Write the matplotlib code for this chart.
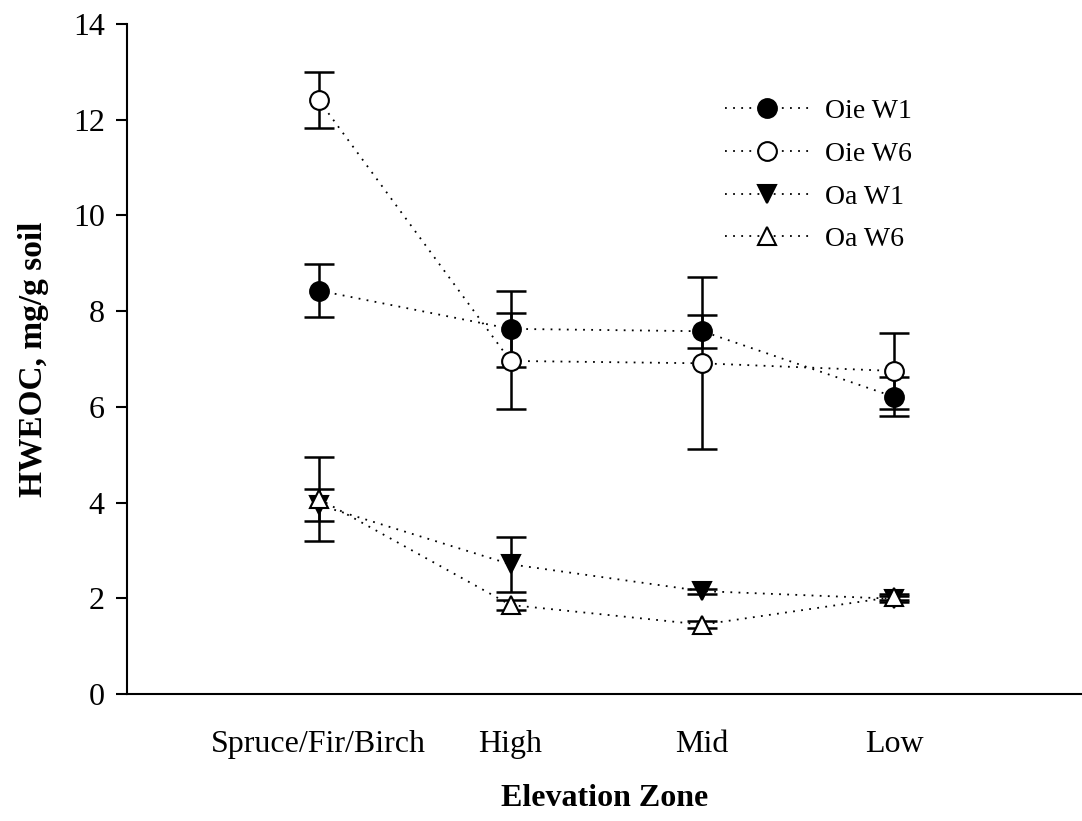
import matplotlib
matplotlib.use("Agg")
import matplotlib.pyplot as plt
import numpy as np

categories = ["Spruce/Fir/Birch", "High", "Mid", "Low"]
oie_w1 = [8.43, 7.63, 7.58, 6.21]
oie_w1_err = [0.55, 0.80, 0.34, 0.41]
oie_w6 = [12.41, 6.96, 6.91, 6.75]
oie_w6_err = [0.58, 1.01, 1.80, 0.80]
oa_w1 = [3.95, 2.71, 2.15, 1.99]
oa_w1_err = [0.33, 0.58, 0.05, 0.06]
oa_w6 = [4.08, 1.86, 1.45, 2.03]
oa_w6_err = [0.88, 0.10, 0.08, 0.06]
yticks = [0, 2, 4, 6, 8, 10, 12, 14]

plt.rcParams['font.family'] = ['Liberation Serif', 'DejaVu Serif']
fig = plt.figure(figsize=(10.82, 8.21), dpi=100)
W, H = 1082, 821
ax = fig.add_axes([127 / W, (H - 694) / H, (W - 127) / W, 670 / H])

x = np.arange(1, len(categories) + 1)
series = [
    ("Oie W1", oie_w1, oie_w1_err, "o", "black", 13.5),
    ("Oie W6", oie_w6, oie_w6_err, "o", "white", 13.5),
    ("Oa W1", oa_w1, oa_w1_err, "v", "black", 12.5),
    ("Oa W6", oa_w6, oa_w6_err, "^", "white", 12.5),
]
for label, vals, errs, mk, fc, ms in series:
    ax.errorbar(x, vals, yerr=errs, fmt="none", ecolor="black", elinewidth=1.8,
                capsize=11, capthick=1.8, zorder=2)
    ax.plot(x, vals, linestyle=(0, (1, 3.5)), color="black", linewidth=1.3,
            marker=mk, markersize=ms, markerfacecolor=fc, markeredgecolor="black",
            markeredgewidth=1.5, label=label, zorder=3)

ax.set_xlim(0, 4.98)
ax.set_ylim(0, 14)
ax.set_xticks(x)
ax.set_xticklabels(categories, fontsize=23)
ax.set_yticks(yticks)
ax.set_yticklabels([str(v) for v in yticks], fontsize=23)
ax.tick_params(axis='x', length=0, pad=26)
ax.tick_params(axis='y', direction='out', length=8, width=1.5, pad=8)
for s in ["top", "right"]:
    ax.spines[s].set_visible(False)
for s in ["left", "bottom"]:
    ax.spines[s].set_linewidth(1.5)

ax.set_ylabel("HWEOC, mg/g soil", fontsize=24, fontweight="bold", labelpad=17)
ax.set_xlabel("Elevation Zone", fontsize=23, fontweight="bold", labelpad=18)

leg = ax.legend(loc="upper left", bbox_to_anchor=(0.615, 0.905), frameon=False,
                fontsize=20, handlelength=3.0, handletextpad=0.6,
                labelspacing=0.62, borderaxespad=0)

fig.savefig("out.png", dpi=100, facecolor="white")
